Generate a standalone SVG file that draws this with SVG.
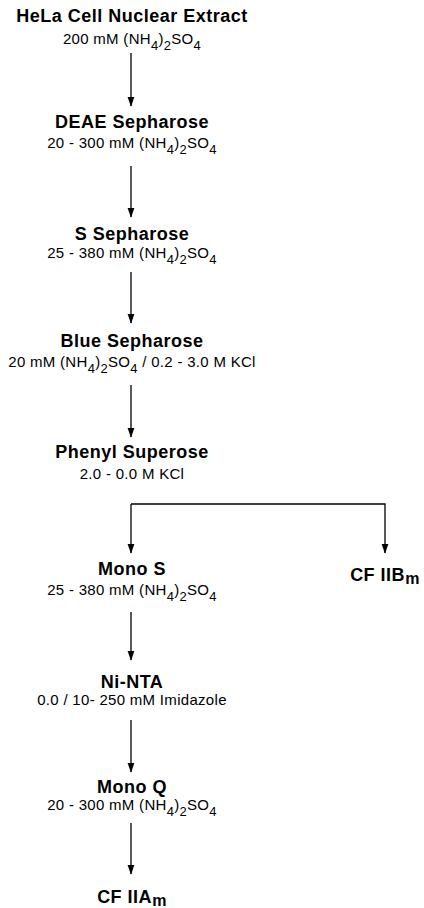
<svg xmlns="http://www.w3.org/2000/svg" width="424" height="908" viewBox="0 0 424 908">
<style>
.t{font-family:"Liberation Sans",Arial,sans-serif;font-weight:bold;font-size:18px;letter-spacing:0.5px;fill:#000;text-anchor:middle}
.s{font-family:"Liberation Sans",Arial,sans-serif;font-size:15px;letter-spacing:0.3px;fill:#000;text-anchor:middle}
.sub{font-size:13px}
.m{font-size:16px}
.c{stroke:#000;stroke-width:1.3;fill:none}
</style>
<defs>
<marker id="a" markerUnits="userSpaceOnUse" markerWidth="10" markerHeight="14" refX="12" refY="4.5" orient="auto" viewBox="0 0 13 9">
<path d="M0,0 L13,4.5 L0,9 Z" fill="#000"/>
</marker>
</defs>
<g id="connectors" class="c">
<line x1="131" y1="53" x2="131" y2="106" marker-end="url(#a)"/>
<line x1="131" y1="166" x2="131" y2="217" marker-end="url(#a)"/>
<line x1="131" y1="272" x2="131" y2="323" marker-end="url(#a)"/>
<line x1="131" y1="385" x2="131" y2="437" marker-end="url(#a)"/>
<polyline points="131,504 385,504 385,553" marker-end="url(#a)"/>
<line x1="131" y1="504" x2="131" y2="553" marker-end="url(#a)"/>
<line x1="131" y1="612" x2="131" y2="660" marker-end="url(#a)"/>
<line x1="131" y1="720" x2="131" y2="772" marker-end="url(#a)"/>
<line x1="131" y1="823" x2="131" y2="874" marker-end="url(#a)"/>
</g>
<g id="hela">
<text class="t" x="132" y="22">HeLa Cell Nuclear Extract</text>
<text class="s" x="132" y="44">200 mM (NH<tspan class="sub" dy="6">4</tspan><tspan dy="-6">)</tspan><tspan class="sub" dy="6">2</tspan><tspan dy="-6">SO</tspan><tspan class="sub" dy="6">4</tspan></text>
</g>
<g id="deae">
<text class="t" x="132" y="128">DEAE Sepharose</text>
<text class="s" x="132" y="148">20 - 300 mM (NH<tspan class="sub" dy="6">4</tspan><tspan dy="-6">)</tspan><tspan class="sub" dy="6">2</tspan><tspan dy="-6">SO</tspan><tspan class="sub" dy="6">4</tspan></text>
</g>
<g id="ssepharose">
<text class="t" x="132" y="240">S Sepharose</text>
<text class="s" x="132" y="258">25 - 380 mM (NH<tspan class="sub" dy="6">4</tspan><tspan dy="-6">)</tspan><tspan class="sub" dy="6">2</tspan><tspan dy="-6">SO</tspan><tspan class="sub" dy="6">4</tspan></text>
</g>
<g id="blue">
<text class="t" x="132" y="347">Blue Sepharose</text>
<text class="s" x="132" y="367">20 mM (NH<tspan class="sub" dy="6">4</tspan><tspan dy="-6">)</tspan><tspan class="sub" dy="6">2</tspan><tspan dy="-6">SO</tspan><tspan class="sub" dy="6">4</tspan><tspan dy="-6"> / 0.2 - 3.0 M KCl</tspan></text>
</g>
<g id="phenyl">
<text class="t" x="132" y="458">Phenyl Superose</text>
<text class="s" x="132" y="479">2.0 - 0.0 M KCl</text>
</g>
<g id="monos">
<text class="t" x="132" y="575">Mono S</text>
<text class="s" x="132" y="595">25 - 380 mM (NH<tspan class="sub" dy="6">4</tspan><tspan dy="-6">)</tspan><tspan class="sub" dy="6">2</tspan><tspan dy="-6">SO</tspan><tspan class="sub" dy="6">4</tspan></text>
</g>
<g id="cfiibm">
<text class="t" x="385" y="581">CF IIB<tspan class="m" dy="3">m</tspan></text>
</g>
<g id="ninta">
<text class="t" x="132" y="688">Ni-NTA</text>
<text class="s" x="132" y="705">0.0 / 10- 250 mM Imidazole</text>
</g>
<g id="monoq">
<text class="t" x="132" y="793">Mono Q</text>
<text class="s" x="132" y="810">20 - 300 mM (NH<tspan class="sub" dy="6">4</tspan><tspan dy="-6">)</tspan><tspan class="sub" dy="6">2</tspan><tspan dy="-6">SO</tspan><tspan class="sub" dy="6">4</tspan></text>
</g>
<g id="cfiiam">
<text class="t" x="132" y="903">CF IIA<tspan class="m" dy="3">m</tspan></text>
</g>
</svg>
